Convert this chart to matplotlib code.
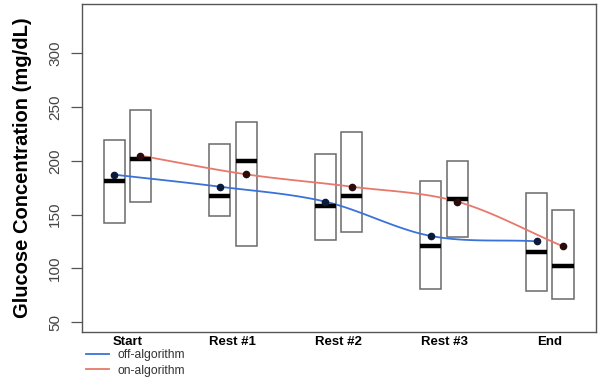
import numpy as np
import matplotlib
matplotlib.use("Agg")
import matplotlib.pyplot as plt

plt.rcParams['font.family'] = ['Liberation Sans', 'DejaVu Sans']

# data
categories = ["Start", "Rest #1", "Rest #2", "Rest #3", "End"]
series_names = ["off-algorithm", "on-algorithm"]

off_upper = [219.4, 215.7, 206.4, 181.0, 170.2]
off_lower = [142.0, 149.1, 126.5, 81.0, 78.8]
off_median = [181.0, 167.1, 158.1, 120.9, 115.6]
off_mean = [187.2, 176.0, 162.1, 130.2, 125.3]

on_upper = [247.0, 235.9, 226.6, 200.2, 154.1]
on_lower = [162.1, 121.2, 134.2, 129.6, 72.0]
on_median = [202.0, 200.2, 167.1, 164.3, 102.3]
on_mean = [204.8, 187.5, 176.0, 162.1, 120.6]

y_ticks = [50, 100, 150, 200, 250, 300]


def smooth(x, y, n=30):
    # catmull-rom style curve through the points (drawing only)
    x = np.asarray(x, float)
    y = np.asarray(y, float)
    m = np.zeros_like(y)
    m[1:-1] = (y[2:] - y[:-2]) / (x[2:] - x[:-2])
    m[0] = (y[1] - y[0]) / (x[1] - x[0])
    m[-1] = (y[-1] - y[-2]) / (x[-1] - x[-2])
    xs, ys = [], []
    for i in range(len(x) - 1):
        h = x[i + 1] - x[i]
        t = np.linspace(0, 1, n)
        h00 = 2 * t**3 - 3 * t**2 + 1
        h10 = t**3 - 2 * t**2 + t
        h01 = -2 * t**3 + 3 * t**2
        h11 = t**3 - t**2
        xs.append(x[i] + t * h)
        ys.append(h00 * y[i] + h10 * h * m[i] + h01 * y[i + 1] + h11 * h * m[i + 1])
    return np.concatenate(xs), np.concatenate(ys)


fig = plt.figure(figsize=(6.02, 3.83), dpi=100)
ax = fig.add_axes([0.1357, 0.1324, 0.8538, 0.8564])

centers = np.arange(len(categories)) * 4.0
pos_off = centers - 0.5
pos_on = centers + 0.5


def stats(lo, hi, med):
    return [dict(q1=a, q3=b, med=c, whislo=a, whishi=b, fliers=[])
            for a, b, c in zip(lo, hi, med)]


box_kw = dict(widths=0.8, showcaps=False, showfliers=False, patch_artist=True,
              boxprops=dict(facecolor='none', edgecolor='#6a6a6a', linewidth=1.1),
              whiskerprops=dict(linewidth=0),
              medianprops=dict(color='black', linewidth=3.2, solid_capstyle='butt'))
ax.bxp(stats(off_lower, off_upper, off_median), positions=pos_off, **box_kw)
ax.bxp(stats(on_lower, on_upper, on_median), positions=pos_on, **box_kw)

xs, ys = smooth(pos_off, off_mean)
l1, = ax.plot(xs, ys, color='#3a72d8', lw=1.3)
xs, ys = smooth(pos_on, on_mean)
l2, = ax.plot(xs, ys, color='#e8786c', lw=1.3)
ax.plot(pos_off, off_mean, 'o', color='#0c1a3a', ms=4.5, zorder=5)
ax.plot(pos_on, on_mean, 'o', color='#2a0c0c', ms=4.5, zorder=5)

ax.set_xlim(-1.727, 17.74)
ax.set_ylim(40.7, 345.5)
ax.set_xticks(centers)
ax.set_xticklabels(categories, fontsize=9.5, fontweight='bold')
ax.tick_params(axis='x', length=0, pad=3)
ax.set_yticks(y_ticks)
ax.tick_params(axis='y', length=8, width=0.9, color='#555555', labelsize=11,
               labelcolor='#444444', labelrotation=90, pad=6)
for lab in ax.get_yticklabels():
    lab.set_va('center')
for sp in ax.spines.values():
    sp.set_color('#555555')
    sp.set_linewidth(1.0)

fig.text(23 / 602, 1 - 168 / 383, "Glucose Concentration (mg/dL)", rotation=90,
         ha='center', va='center', fontsize=14.5, fontweight='bold')

ax.legend([l1, l2], series_names, loc='upper left',
          bbox_to_anchor=(86 / 602, 1 - 349 / 383), bbox_transform=fig.transFigure,
          frameon=False, fontsize=8.7, handlelength=1.9, handletextpad=0.7,
          borderpad=0, borderaxespad=0, labelspacing=0.3, labelcolor='#333333')

fig.savefig("out.png", dpi=100)
